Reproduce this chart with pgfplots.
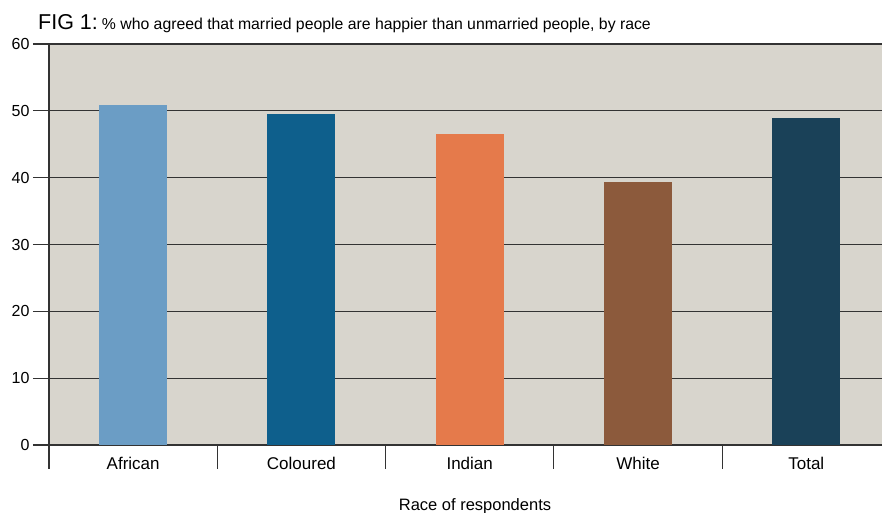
\documentclass[border=0pt]{standalone}
\usepackage{pgfplots}
\pgfplotsset{compat=1.18}
\usepackage{fontspec}
\setmainfont{Liberation Sans}
\definecolor{bg}{HTML}{D8D5CD}
\definecolor{cAfr}{HTML}{6B9DC5}
\definecolor{cCol}{HTML}{0E5F8C}
\definecolor{cInd}{HTML}{E57A4B}
\definecolor{cWhi}{HTML}{8C5A3C}
\definecolor{cTot}{HTML}{1A4158}
\definecolor{ax}{HTML}{333333}
\begin{document}
\begin{tikzpicture}[x=1pt,y=1pt]
\useasboundingbox (0,0) rectangle (882,513);
\begin{axis}[
  at={(49pt,68pt)}, anchor=south west,
  scale only axis, width=833pt, height=401pt,
  xmin=-0.5, xmax=4.45, ymin=0, ymax=60,
  axis x line*=bottom, axis y line*=left,
  axis line style={ax, line width=1.1pt},
  axis background/.style={fill=bg},
  ytick={0,10,...,60},
  xtick={0,1,2,3,4},
  xticklabels={African,Coloured,Indian,White,Total},
  minor xtick={-0.5,0.5,1.5,2.5,3.5},
  tick align=outside,
  major tick length=16pt,
  minor tick length=24pt,
  major x tick style={draw=none},
  minor x tick style={draw=ax, line width=1.1pt},
  ytick style={ax, line width=1.1pt},
  ymajorgrids,
  major grid style={ax, line width=1.1pt},
  /pgf/number format/assume math mode=true,
  yticklabel style={font=\fontsize{16}{16}\selectfont, text=black},
  xticklabel style={font=\fontsize{17}{17}\selectfont, text=black, yshift=7pt},
  ybar, bar width=68pt, bar shift=0pt,
  clip=false,
]
\addplot[fill=cAfr, draw=none] coordinates {(0,50.8)};
\addplot[fill=cCol, draw=none] coordinates {(1,49.6)};
\addplot[fill=cInd, draw=none] coordinates {(2,46.6)};
\addplot[fill=cWhi, draw=none] coordinates {(3,39.4)};
\addplot[fill=cTot, draw=none] coordinates {(4,48.9)};
\end{axis}
\node[anchor=base west, inner sep=0pt] at (38,483) {\fontsize{21.5}{22}\selectfont FIG 1:\hspace{4pt}\fontsize{15.8}{16}\selectfont \% who agreed that married people are happier than unmarried people, by race};
\node[anchor=base, inner sep=0pt] at (475,2) {\fontsize{16.5}{17}\selectfont Race of respondents};
\end{tikzpicture}
\end{document}
